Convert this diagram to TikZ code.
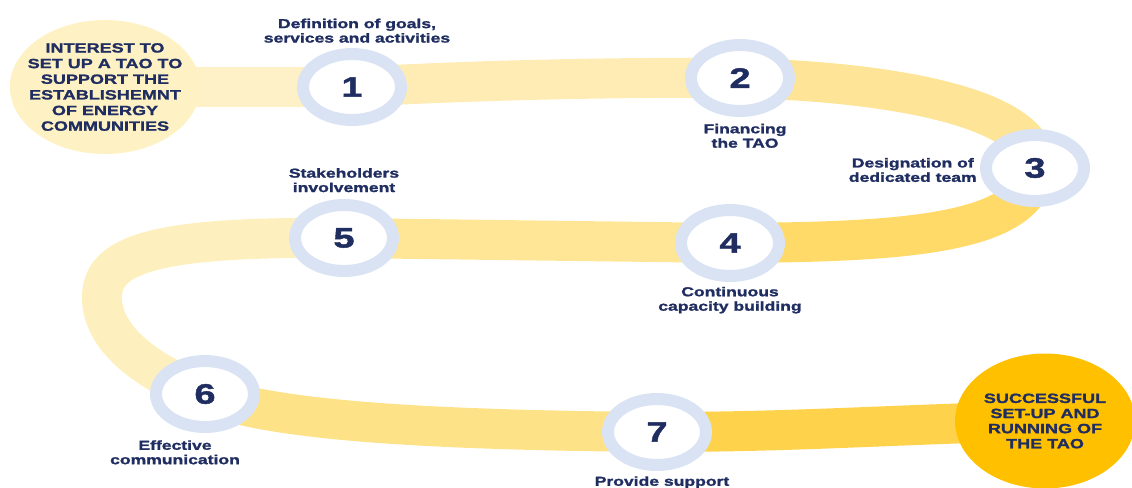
\documentclass[tikz,border=0pt]{standalone}
\usepackage{fontspec}
\setmainfont{Liberation Sans}[FakeStretch=1.35, BoldFeatures={FakeBold=1.5}]
\usetikzlibrary{shapes.geometric, positioning}
\definecolor{taonavy}{RGB}{31, 45, 96}
\definecolor{ringblue}{RGB}{218, 227, 243}
\definecolor{startyellow}{RGB}{254, 241, 196}
\definecolor{endgold}{RGB}{255, 192, 0}
\definecolor{bandA}{RGB}{254, 241, 200}
\definecolor{bandB}{RGB}{254, 236, 180}
\definecolor{bandC}{RGB}{254, 228, 150}
\definecolor{bandD}{RGB}{255, 218, 105}
\definecolor{bandE}{RGB}{254, 230, 150}
\definecolor{bandF}{RGB}{254, 240, 190}
\definecolor{bandG}{RGB}{254, 226, 135}
\definecolor{bandH}{RGB}{255, 210, 75}
\pgfdeclarelayer{back}
\pgfsetlayers{back,main}

\begin{document}
\begin{tikzpicture}[x=0.02cm, y=-0.02cm,
  ring/.style={ellipse, draw=ringblue, line width=0.24cm, fill=white, minimum width=1.96cm, minimum height=1.32cm, inner sep=0pt, text=taonavy, font=\bfseries\fontsize{16}{16}\selectfont},
  steplabel/.style={align=center, inner sep=0pt, text=taonavy, font=\bfseries\fontsize{7.4}{8.2}\selectfont},
  band/.style={line width=0.8cm}]
  \useasboundingbox (0,0) rectangle (1132,487);

  % start and end of the road
  \node[ellipse, fill=startyellow, minimum width=3.8cm, minimum height=2.68cm, inner sep=-0.2cm, align=center, text=taonavy, font=\bfseries\fontsize{7.6}{8.9}\selectfont] (start) at (105,87) {INTEREST TO\\SET UP A TAO TO\\SUPPORT THE\\ESTABLISHEMNT\\OF ENERGY\\COMMUNITIES};
  \node[ellipse, fill=endgold, minimum width=3.6cm, minimum height=2.7cm, inner sep=0pt, align=center, text=taonavy, font=\bfseries\fontsize{7.6}{8.6}\selectfont] (finish) at (1045,421) {SUCCESSFUL\\SET-UP AND\\RUNNING OF\\THE TAO};

  % steps
  \node[ring] (n1) at (352,87) {1};
  \node[ring] (n2) at (740,78) {2};
  \node[ring] (n3) at (1035,168) {3};
  \node[ring] (n4) at (730,243) {4};
  \node[ring] (n5) at (344,238) {5};
  \node[ring] (n6) at (205,394) {6};
  \node[ring] (n7) at (657,432) {7};

  \node[steplabel, above=0.1cm of n1, xshift=0.1cm] (l1) {Definition of goals,\\services and activities};
  \node[steplabel, below=0.13cm of n2, xshift=0.1cm] (l2) {Financing\\the TAO};
  \node[steplabel, left=0.06cm of n3, yshift=-0.04cm] (l3) {Designation of\\dedicated team};
  \node[steplabel, below=0.09cm of n4] (l4) {Continuous\\capacity building};
  \node[steplabel, above=0.13cm of n5] (l5) {Stakeholders\\involvement};
  \node[steplabel, below=0.14cm of n6, xshift=-0.6cm] (l6) {Effective\\communication};
  \node[steplabel, below=0.1cm of n7, xshift=0.1cm] (l7) {Provide support};

  % the road
  \begin{pgfonlayer}{back}
    \draw[band, draw=bandA] (start.center) -- (n1.center);
    \draw[band, draw=bandB] (n1.center) .. controls (480,80) and (620,77) .. (n2.center);
    \draw[band, draw=bandC] (n2.center) .. controls (900,82) and (1040,110) .. (n3.center);
    \draw[band, draw=bandD] (n3.center) .. controls (1030,235) and (900,242) .. (n4.center);
    \draw[band, draw=bandE] (n4.center) -- (n5.center);
    \draw[band, draw=bandF] (n5.center) .. controls (150,236) and (100,255) .. (102,300) .. controls (104,345) and (160,378) .. (n6.center);
    \draw[band, draw=bandG] (n6.center) .. controls (270,420) and (420,430) .. (n7.center);
    \draw[band, draw=bandH] (n7.center) .. controls (800,432) and (900,424) .. (finish.center);
  \end{pgfonlayer}
\end{tikzpicture}
\end{document}
